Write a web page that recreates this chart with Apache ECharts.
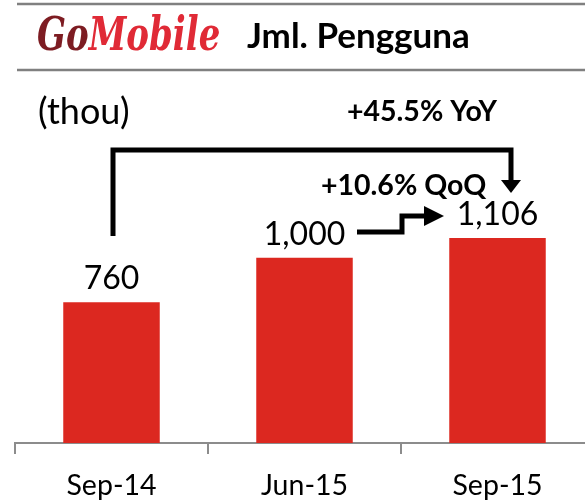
<!DOCTYPE html>
<html>
<head>
<meta charset="utf-8">
<script src="https://cdn.jsdelivr.net/npm/echarts@6/dist/echarts.min.js"></script>
<style>
  html, body { margin: 0; padding: 0; background: #fff; }
  #ech { width: 585px; height: 503px; }
</style>
</head>
<body>
<div id="ech"></div>
<script>
// data
var categories = ["Sep-14", "Jun-15", "Sep-15"];
var users = [760, 1000, 1106];
var unitText = "(thou)";
var yoyText = "+45.5% YoY";
var qoqText = "+10.6% QoQ";

// plot box
var gridLeft = 15, gridTop = 146.5, gridW = 579, gridH = 296.5;

var myChart = echarts.init(document.getElementById("ech"));

function txt(x, y, text, size, bold) {
  return {
    type: "text", x: x, y: y,
    style: {
      text: text, fill: "#000", fontFamily: "Lato", fontSize: size,
      fontWeight: bold ? "bold" : "normal", verticalAlign: "middle"
    }
  };
}

var graphics = [
  // header lines
  { type: "line", shape: { x1: 17, y1: 4, x2: 585, y2: 4 }, style: { stroke: "#808080", lineWidth: 2.5 } },
  { type: "line", shape: { x1: 17, y1: 70, x2: 585, y2: 70 }, style: { stroke: "#808080", lineWidth: 2.5 } },
  // logo
  {
    type: "text", x: 37, y: 38, scaleY: 1.35,
    style: {
      text: "{a|Go}{b|Mobile}",
      verticalAlign: "middle",
      rich: {
        a: { fill: "#7d1c22", fontFamily: "DejaVu Serif", fontStyle: "italic", fontWeight: "bold", fontSize: 34 },
        b: { fill: "#e02a36", fontFamily: "DejaVu Serif", fontStyle: "italic", fontWeight: "bold", fontSize: 34 }
      }
    }
  },
  txt(247, 37, "Jml. Pengguna", 35, true),
  txt(38, 112, unitText, 36, false),
  txt(347, 112, yoyText, 28.5, true),
  txt(321, 186, qoqText, 28.5, true),
  // YoY bracket
  {
    type: "polyline",
    shape: { points: [[113, 236], [113, 150], [511, 150], [511, 181]] },
    style: { stroke: "#000", lineWidth: 5, fill: null, lineJoin: "miter" }
  },
  { type: "polygon", shape: { points: [[501, 180], [521, 180], [511, 193]] }, style: { fill: "#000" } },
  // QoQ step arrow
  {
    type: "polyline",
    shape: { points: [[357, 232], [402, 232], [402, 216], [426, 216]] },
    style: { stroke: "#000", lineWidth: 5, fill: null, lineJoin: "miter" }
  },
  { type: "polygon", shape: { points: [[424, 206], [424, 226], [444, 216]] }, style: { fill: "#000" } }
];

// category boundary ticks under the axis
for (var i = 0; i <= categories.length; i++) {
  var tx = Math.round(gridLeft + i * gridW / categories.length);
  graphics.push({
    type: "rect", z: 100,
    shape: { x: tx - 1, y: Math.round(gridTop + gridH) - 1, width: 2, height: 12 },
    style: { fill: "#8c8c8c" }
  });
}

var option = {
  animation: false,
  grid: { left: gridLeft, top: gridTop, width: gridW, height: gridH, outerBoundsMode: "none" },
  xAxis: {
    type: "category",
    data: categories,
    axisLine: { show: true, lineStyle: { color: "#8c8c8c", width: 2 } },
    axisTick: { show: true, length: 11, lineStyle: { color: "#8c8c8c", width: 2 } },
    axisLabel: { color: "#000", fontFamily: "Lato", fontSize: 28.5, margin: 28 }
  },
  yAxis: { type: "value", min: 0, max: 1600, show: false },
  series: [
    {
      type: "bar",
      data: users,
      barWidth: "50%",
      itemStyle: { color: "#dc2820" },
      label: {
        show: true,
        position: "top",
        distance: 7,
        color: "#000",
        fontFamily: "Lato",
        fontSize: 32,
        formatter: function (p) { return p.value.toLocaleString("en-US"); }
      }
    }
  ],
  graphic: graphics
};

myChart.setOption(option);
</script>
</body>
</html>
